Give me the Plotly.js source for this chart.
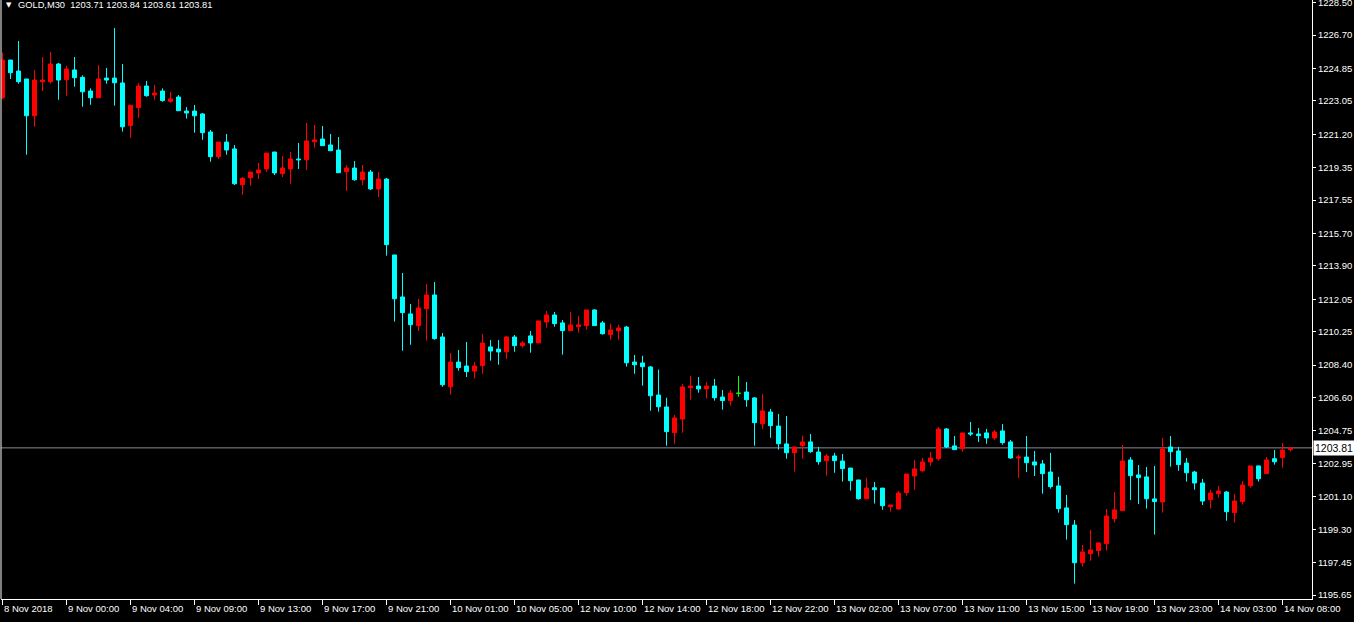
<!DOCTYPE html>
<html><head><meta charset="utf-8">
<script src="https://cdn.plot.ly/plotly-3.0.1.min.js"></script>
<style>html,body{margin:0;padding:0;background:#000;overflow:hidden}#chart{width:1354px;height:622px}</style>
</head><body><div id="chart"></div>
<script>
const symbolLabel = "GOLD,M30";
const lastBar = [1203.71, 1203.84, 1203.61, 1203.81];
const currentPrice = 1203.81;

const open = [1223.23,1225.32,1224.71,1224.27,1222.23,1224.12,1224.12,1225.10,1224.23,1224.77,
1224.36,1223.60,1223.23,1224.32,1224.32,1224.05,1221.68,1222.68,1223.88,1223.38,
1223.60,1223.03,1223.27,1222.49,1222.49,1222.33,1221.33,1219.96,1220.77,1220.39,
1218.41,1218.79,1219.06,1219.28,1220.22,1219.02,1219.28,1219.83,1219.79,1220.79,
1220.94,1220.61,1220.33,1219.13,1219.33,1218.68,1219.11,1218.17,1218.72,1214.51,
1212.18,1211.24,1210.59,1211.53,1212.29,1209.96,1207.20,1208.57,1208.35,1208.07,
1208.37,1209.41,1209.29,1209.14,1209.96,1209.48,1210.02,1209.63,1210.79,1211.18,
1210.74,1210.31,1210.53,1210.59,1211.46,1210.74,1210.09,1210.31,1210.51,1208.57,
1208.52,1208.30,1206.74,1206.08,1204.65,1205.41,1207.15,1207.24,1207.08,1207.24,
1206.63,1206.43,1206.84,1206.91,1206.58,1205.15,1205.80,1205.02,1204.03,1203.54,
1203.93,1204.14,1203.58,1203.10,1203.36,1203.08,1202.69,1202.03,1200.99,1201.60,
1201.58,1200.55,1200.42,1201.33,1202.25,1202.54,1203.03,1203.21,1204.86,1203.92,
1203.76,1204.64,1204.58,1204.64,1204.36,1204.75,1204.14,1203.25,1203.30,1203.03,
1202.92,1202.47,1201.70,1200.48,1199.53,1197.44,1197.94,1198.11,1198.50,1199.88,
1200.33,1203.14,1202.31,1202.20,1200.98,1200.81,1203.86,1203.64,1202.97,1202.47,
1201.86,1200.94,1201.27,1201.36,1200.22,1200.83,1201.71,1202.81,1202.38,1203.21,
1203.27,1203.71];

const high = [1225.73,1225.32,1226.38,1224.27,1224.77,1225.49,1225.77,1225.16,1224.99,1225.49,
1224.47,1223.75,1225.04,1224.88,1227.10,1225.10,1222.84,1224.05,1224.16,1223.94,
1223.75,1223.55,1223.38,1222.72,1222.83,1222.38,1221.44,1220.77,1221.22,1220.61,
1218.83,1219.11,1219.61,1220.16,1220.22,1220.00,1220.22,1220.72,1221.83,1221.72,
1221.66,1221.22,1221.05,1219.50,1219.72,1219.50,1219.22,1219.11,1218.78,1214.51,
1213.51,1211.79,1212.07,1212.90,1213.01,1210.18,1209.07,1209.24,1209.68,1208.57,
1210.13,1209.79,1209.79,1210.02,1210.07,1209.74,1210.29,1210.85,1211.40,1211.35,
1210.90,1211.35,1211.13,1211.46,1211.50,1210.85,1210.70,1210.63,1210.57,1208.96,
1208.92,1208.35,1208.15,1206.59,1205.63,1207.35,1207.80,1207.74,1207.46,1207.63,
1207.02,1207.02,1207.80,1207.46,1206.63,1206.80,1205.97,1205.69,1205.58,1203.86,
1204.49,1204.58,1203.86,1203.47,1203.53,1203.47,1202.69,1202.03,1202.16,1201.92,
1201.58,1200.64,1201.42,1202.36,1203.14,1203.25,1203.58,1204.97,1204.91,1204.47,
1204.64,1205.25,1204.91,1204.86,1204.80,1205.13,1204.25,1203.42,1204.47,1203.64,
1203.14,1203.53,1202.20,1201.20,1199.81,1198.42,1199.26,1198.54,1200.42,1201.36,
1203.97,1203.30,1202.86,1202.75,1202.81,1204.36,1204.47,1203.86,1203.25,1202.53,
1202.09,1201.47,1201.70,1201.42,1201.25,1201.97,1202.81,1202.81,1203.30,1203.69,
1204.08,1203.84];

const low = [1223.16,1224.27,1224.01,1220.07,1221.62,1223.60,1224.01,1223.12,1223.34,1223.84,
1222.73,1222.84,1223.23,1224.01,1222.79,1221.35,1221.01,1222.12,1223.29,1223.12,
1223.01,1222.94,1222.51,1222.07,1221.29,1220.90,1219.68,1219.83,1220.07,1218.39,
1217.84,1218.35,1218.72,1219.11,1218.94,1218.83,1218.46,1219.28,1219.22,1220.46,
1220.57,1220.29,1219.07,1218.06,1218.63,1218.39,1218.11,1217.72,1214.47,1210.81,
1209.20,1209.53,1210.29,1209.76,1209.81,1207.20,1206.76,1208.09,1207.74,1207.65,
1207.92,1208.65,1208.42,1208.74,1209.14,1209.37,1209.09,1209.63,1210.48,1210.53,
1208.98,1210.31,1210.20,1210.37,1210.59,1210.09,1209.81,1209.81,1208.31,1207.92,
1207.26,1205.87,1205.82,1203.93,1204.04,1204.65,1206.48,1206.87,1206.54,1206.43,
1205.93,1206.15,1206.65,1206.09,1203.93,1204.87,1204.37,1203.71,1203.21,1202.49,
1203.21,1203.54,1202.88,1202.27,1202.43,1201.94,1201.44,1200.94,1200.99,1200.72,
1200.38,1200.27,1200.37,1201.16,1201.49,1202.49,1202.81,1203.10,1203.80,1203.71,
1203.60,1204.47,1204.14,1204.04,1204.25,1203.99,1203.21,1202.14,1202.47,1202.25,
1201.27,1201.55,1200.22,1198.72,1196.28,1197.22,1197.55,1197.78,1198.11,1199.66,
1200.33,1200.92,1200.70,1200.44,1199.00,1200.22,1202.77,1202.54,1201.94,1201.49,
1200.64,1200.44,1201.05,1199.77,1199.66,1200.66,1201.60,1201.94,1202.38,1202.88,
1202.71,1203.61];

const close = [1225.32,1224.62,1224.12,1222.23,1224.21,1224.21,1225.10,1224.21,1224.82,1224.34,
1223.56,1223.23,1224.27,1224.21,1224.06,1221.62,1222.81,1223.88,1223.34,1223.49,
1223.07,1223.16,1222.51,1222.38,1222.23,1221.29,1219.96,1220.77,1220.33,1218.46,
1218.76,1219.11,1219.22,1220.16,1219.06,1219.33,1219.83,1219.79,1220.83,1220.89,
1220.57,1220.29,1219.07,1219.33,1218.68,1219.11,1218.17,1218.72,1215.08,1212.08,
1211.31,1210.64,1211.57,1212.29,1209.87,1207.31,1208.57,1208.26,1208.04,1208.35,
1209.63,1209.18,1209.13,1209.96,1209.48,1209.63,1209.63,1210.85,1211.18,1210.70,
1210.31,1210.63,1210.63,1211.46,1210.59,1210.14,1210.35,1210.46,1208.53,1208.42,
1208.31,1206.70,1206.09,1204.71,1205.47,1207.19,1207.24,1207.08,1207.24,1206.59,
1206.43,1206.85,1206.84,1206.48,1205.21,1205.86,1205.04,1204.04,1203.54,1203.86,
1204.14,1203.60,1203.04,1203.36,1203.10,1202.66,1201.99,1200.99,1201.58,1201.49,
1200.60,1200.64,1201.31,1202.36,1202.64,1203.03,1203.25,1204.86,1203.86,1203.71,
1204.64,1204.58,1204.49,1204.36,1204.69,1204.10,1203.25,1203.30,1202.99,1202.86,
1202.38,1201.66,1200.44,1199.55,1197.44,1198.04,1198.15,1198.54,1200.03,1200.37,
1203.08,1202.27,1202.16,1200.99,1200.83,1203.75,1203.60,1202.88,1202.43,1201.86,
1200.86,1201.31,1201.42,1200.27,1200.86,1201.75,1202.81,1202.10,1203.14,1203.04,
1203.69,1203.81];

const tickBars = [0,8,16,24,32,40,48,56,64,72,80,88,96,104,112,120,128,136,144,152,160];
const tickLabels = ["8 Nov 2018","9 Nov 00:00","9 Nov 04:00","9 Nov 09:00","9 Nov 13:00",
"9 Nov 17:00","9 Nov 21:00","10 Nov 01:00","10 Nov 05:00","12 Nov 10:00","12 Nov 14:00",
"12 Nov 18:00","12 Nov 22:00","13 Nov 02:00","13 Nov 07:00","13 Nov 11:00","13 Nov 15:00",
"13 Nov 19:00","13 Nov 23:00","14 Nov 03:00","14 Nov 08:00"];
const priceTicks = [1228.50,1226.70,1224.85,1223.05,1221.20,1219.35,1217.55,1215.70,1213.90,
1212.05,1210.25,1208.40,1206.60,1204.75,1202.95,1201.10,1199.30,1197.45,1195.65];

const BULL = '#ff0000', BEAR = '#00ffff', DOJI = '#00ff00';
const FONT = 'Liberation Sans, Arial, sans-serif';

const idx = open.map((_, i) => i);
const sel = f => idx.filter(f);
const mainI = sel(i => open[i] !== close[i]);
const dojiI = sel(i => open[i] === close[i]);
const pick = (arr, ii) => ii.map(i => arr[i]);

function candle(ii, upC, dnC) {
  return {
    type: 'candlestick', x: ii, open: pick(open, ii), high: pick(high, ii),
    low: pick(low, ii), close: pick(close, ii), whiskerwidth: 0,
    increasing: {line: {color: upC, width: 1}, fillcolor: upC},
    decreasing: {line: {color: dnC, width: 1}, fillcolor: dnC},
    hoverinfo: 'skip', showlegend: false
  };
}

const traces = [candle(mainI, BULL, BEAR), candle(dojiI, DOJI, DOJI)];

const annotations = tickBars.map((b, k) => ({
  x: b, xref: 'x', y: 0, yref: 'paper', xanchor: 'left', yanchor: 'top',
  text: tickLabels[k], showarrow: false, yshift: -2, xshift: -1,
  font: {family: FONT, size: 9.5, color: '#ffffff'}
}));
annotations.push({
  x: 1, xref: 'paper', y: currentPrice, yref: 'y', xanchor: 'left', yanchor: 'middle',
  text: currentPrice.toFixed(2), showarrow: false, bgcolor: '#ffffff', borderpad: 1, xshift: 1,
  font: {family: FONT, size: 10.5, color: '#000000'}
});
annotations.push({
  x: 0, xref: 'paper', y: 1, yref: 'paper', xanchor: 'left', yanchor: 'top',
  text: '\u25BC', showarrow: false, xshift: 3, yshift: 1,
  font: {family: 'DejaVu Sans', size: 7, color: '#ffffff'}
});
annotations.push({
  x: 0, xref: 'paper', y: 1, yref: 'paper', xanchor: 'left', yanchor: 'top',
  text: symbolLabel + '\u00a0\u00a0' + lastBar.map(v => v.toFixed(2)).join(' '),
  showarrow: false, xshift: 15, yshift: 2,
  font: {family: FONT, size: 9.3, color: '#ffffff'}
});

const layout = {
  width: 1354, height: 622,
  paper_bgcolor: '#000000', plot_bgcolor: '#000000',
  margin: {l: 1, r: 42, t: 0, b: 23, pad: 0},
  showlegend: false, hovermode: false,
  boxgap: 0.5, boxgroupgap: 0,
  xaxis: {
    range: [-0.1875, 163.6875], showgrid: false, zeroline: false,
    showline: true, linecolor: '#ffffff', linewidth: 1,
    ticks: 'outside', ticklen: 5, tickwidth: 1, tickcolor: '#ffffff',
    tickvals: tickBars, showticklabels: false,
    rangeslider: {visible: false}, fixedrange: true
  },
  yaxis: {
    side: 'right', range: [1195.428, 1228.65], showgrid: false, zeroline: false,
    showline: true, linecolor: '#ffffff', linewidth: 1,
    ticks: 'outside', ticklen: 3, tickwidth: 1, tickcolor: '#ffffff',
    tickvals: priceTicks, ticktext: priceTicks.map(v => v.toFixed(2)),
    ticklabeloverflow: 'allow',
    tickfont: {family: FONT, size: 9.5, color: '#ffffff'}, fixedrange: true
  },
  shapes: [
    {type: 'line', xref: 'paper', x0: 0, x1: 1, yref: 'y', y0: currentPrice, y1: currentPrice,
     line: {color: '#848c99', width: 1}, layer: 'below'},
    {type: 'line', xref: 'paper', x0: 0, x1: 0, yref: 'paper', y0: 0, y1: 1,
     line: {color: '#ffffff', width: 1}, layer: 'above'}
  ],
  annotations: annotations
};

Plotly.newPlot('chart', traces, layout, {staticPlot: true, displayModeBar: false});
</script>
</body></html>
